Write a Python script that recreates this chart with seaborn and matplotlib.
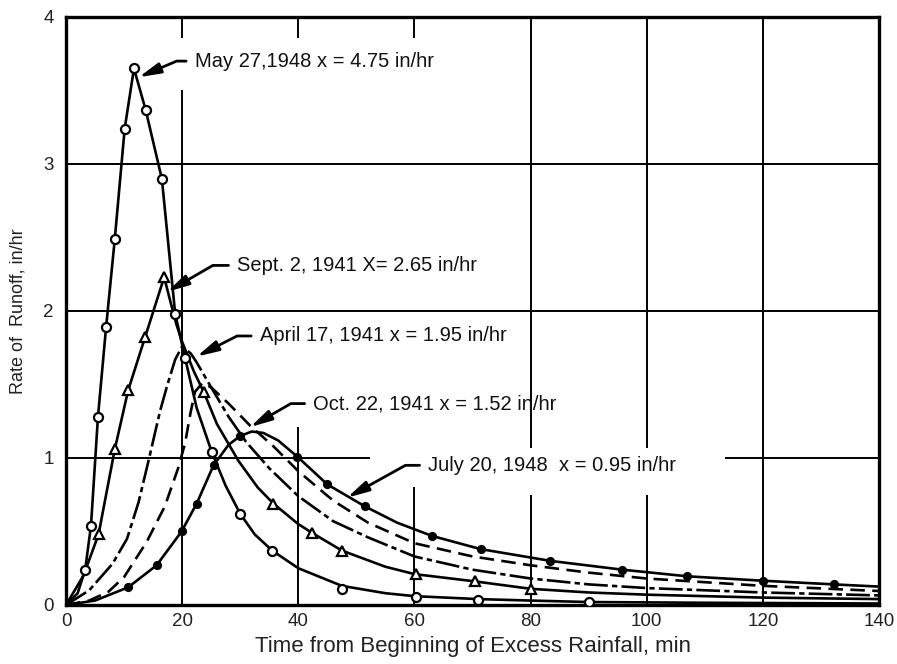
import matplotlib
matplotlib.use("Agg")
import matplotlib.pyplot as plt
import seaborn as sns
import pandas as pd

# ---- data ----
# May 27, 1948 (open circles, solid)
may_x = [0, 2, 3.3, 4.3, 5.5, 6.9, 8.4, 10.1, 11.7, 13.7, 16.5, 18.8, 20.5, 22.5, 25.1, 27.5, 30, 32.5, 35.5, 40, 47.5, 55, 60, 71, 80, 90, 110, 140]
may_y = [0, 0.08, 0.24, 0.54, 1.28, 1.89, 2.49, 3.24, 3.65, 3.37, 2.90, 1.98, 1.68, 1.34, 1.04, 0.81, 0.62, 0.48, 0.37, 0.25, 0.13, 0.08, 0.06, 0.04, 0.03, 0.02, 0.015, 0.01]
may_mx = [3.3, 4.3, 5.5, 6.9, 8.4, 10.1, 11.7, 13.7, 16.5, 18.8, 20.5, 25.1, 30, 35.5, 47.5, 60.2, 71, 90]
may_my = [0.24, 0.54, 1.28, 1.89, 2.49, 3.24, 3.65, 3.37, 2.90, 1.98, 1.68, 1.04, 0.62, 0.37, 0.11, 0.055, 0.035, 0.02]

# Sept. 2, 1941 (open triangles, solid)
sep_x = [0, 3, 5.6, 8.4, 10.7, 13.6, 16.9, 18, 19, 20, 22, 23.7, 26, 29.7, 33, 35.7, 40, 42.4, 47.5, 55, 60, 70.5, 80, 90, 100, 120, 140]
sep_y = [0, 0.2, 0.48, 1.06, 1.46, 1.82, 2.23, 2.06, 1.91, 1.79, 1.59, 1.45, 1.23, 0.98, 0.80, 0.69, 0.55, 0.49, 0.37, 0.26, 0.21, 0.16, 0.11, 0.085, 0.07, 0.05, 0.04]
sep_mx = [5.6, 8.4, 10.7, 13.6, 16.9, 23.7, 35.7, 42.4, 47.5, 60.2, 70.5, 80]
sep_my = [0.48, 1.06, 1.46, 1.82, 2.23, 1.45, 0.69, 0.49, 0.37, 0.21, 0.16, 0.11]

# April 17, 1941 (dash-dot, no markers)
apr_x = [0, 4, 8, 10.5, 12.5, 14.2, 16.2, 17.4, 18.8, 20, 21.5, 22.5, 25, 28, 31, 35, 40, 46, 52, 60, 70, 80, 90, 100, 120, 140]
apr_y = [0, 0.1, 0.28, 0.45, 0.7, 0.98, 1.32, 1.49, 1.67, 1.76, 1.71, 1.65, 1.48, 1.28, 1.11, 0.93, 0.74, 0.57, 0.46, 0.33, 0.24, 0.18, 0.14, 0.115, 0.085, 0.065]

# Oct. 22, 1941 (dashed, no markers)
oct_x = [0, 4, 7.3, 10, 13.9, 17, 19.3, 20.5, 21.4, 22.2, 23.5, 25, 28, 31.7, 35.7, 40, 46, 52, 60, 70, 80, 90, 100, 120, 140]
oct_y = [0, 0.03, 0.09, 0.19, 0.43, 0.67, 0.93, 1.1, 1.3, 1.45, 1.51, 1.48, 1.37, 1.22, 1.08, 0.91, 0.71, 0.56, 0.42, 0.33, 0.27, 0.22, 0.18, 0.13, 0.095]

# July 20, 1948 (filled dots, solid)
jul_x = [0, 5, 10.7, 15.6, 19.9, 22.5, 25.4, 28, 30, 32, 34, 36.5, 39.8, 45, 51.5, 57, 63, 71.4, 83.4, 95.8, 107, 120, 132.2, 140]
jul_y = [0, 0.03, 0.12, 0.27, 0.5, 0.69, 0.95, 1.09, 1.15, 1.18, 1.17, 1.12, 1.01, 0.82, 0.67, 0.56, 0.47, 0.38, 0.30, 0.24, 0.195, 0.165, 0.14, 0.125]
jul_mx = [10.7, 15.6, 19.9, 22.5, 25.4, 30, 39.8, 45, 51.5, 63, 71.4, 83.4, 95.8, 107, 120, 132.2]
jul_my = [0.12, 0.27, 0.5, 0.69, 0.95, 1.15, 1.01, 0.82, 0.67, 0.47, 0.38, 0.30, 0.24, 0.195, 0.165, 0.14]

labels = ["May 27,1948 x = 4.75 in/hr",
          "Sept. 2, 1941 X= 2.65 in/hr",
          "April 17, 1941 x = 1.95 in/hr",
          "Oct. 22, 1941 x = 1.52 in/hr",
          "July 20, 1948  x = 0.95 in/hr"]
x_ticks = [0, 20, 40, 60, 80, 100, 120, 140]
y_ticks = [0, 1, 2, 3, 4]

curves = pd.concat([
    pd.DataFrame({"t": may_x, "q": may_y, "storm": "May"}),
    pd.DataFrame({"t": sep_x, "q": sep_y, "storm": "Sept"}),
    pd.DataFrame({"t": apr_x, "q": apr_y, "storm": "April"}),
    pd.DataFrame({"t": oct_x, "q": oct_y, "storm": "Oct"}),
    pd.DataFrame({"t": jul_x, "q": jul_y, "storm": "July"}),
], ignore_index=True)
points = pd.concat([
    pd.DataFrame({"t": may_mx, "q": may_my, "storm": "May"}),
    pd.DataFrame({"t": sep_mx, "q": sep_my, "storm": "Sept"}),
    pd.DataFrame({"t": jul_mx, "q": jul_my, "storm": "July"}),
], ignore_index=True)

sns.set_theme(style="white")
plt.rcParams["font.family"] = ["Liberation Sans", "DejaVu Sans"]

fig = plt.figure(figsize=(8.97, 6.64), dpi=100)
ax = fig.add_axes([0.0736, 0.0889, 0.9064, 0.8855])

# grid drawn as segments (the reference grid is partly erased behind labels)
grid_kw = dict(color="black", lw=1.4, zorder=0.5)
ax.vlines(20, 0, 3.50, **grid_kw); ax.vlines(20, 3.86, 4, **grid_kw)
ax.vlines(40, 0, 1.21, **grid_kw); ax.vlines(40, 3.86, 4, **grid_kw)
ax.vlines(60, 0, 0.80, **grid_kw); ax.vlines(60, 3.86, 4, **grid_kw)
ax.vlines(80, 0, 0.75, **grid_kw); ax.vlines(80, 1.07, 4, **grid_kw)
ax.vlines(100, 0, 0.75, **grid_kw); ax.vlines(100, 1.07, 4, **grid_kw)
ax.vlines(120, 0, 4, **grid_kw)
ax.hlines(1, 0, 52.4, **grid_kw); ax.hlines(1, 113.5, 140, **grid_kw)
ax.hlines(2, 0, 140, **grid_kw)
ax.hlines(3, 0, 140, **grid_kw)

lstyles = {"May": "-", "Sept": "-", "April": (0, (9, 1.6, 2, 1.6)), "Oct": (0, (5.5, 2.8)), "July": "-"}
for name, ls in lstyles.items():
    sns.lineplot(data=curves[curves.storm == name], x="t", y="q", ax=ax, color="black",
                 lw=1.9, linestyle=ls, sort=False, estimator=None, zorder=3)

mstyles = {"May": ("o", "white", 6.5), "Sept": ("^", "white", 6.5), "July": ("o", "black", 5)}
for name, (mk, fc, ms) in mstyles.items():
    sub = points[points.storm == name]
    ax.plot(sub.t, sub.q, ls="none", marker=mk, mfc=fc, mec="black", mew=1.6, ms=ms, zorder=4)

ax.set_xlim(0, 140)
ax.set_ylim(0, 4)
ax.set_xticks(x_ticks)
ax.set_yticks(y_ticks)
ax.grid(False)
for s in ax.spines.values():
    s.set_color("black")
    s.set_linewidth(2.4)
ax.tick_params(length=0, labelsize=13.5, colors="#222222")
ax.tick_params(axis="x", pad=6)
ax.tick_params(axis="y", pad=9)
ax.set_xlabel("Time from Beginning of Excess Rainfall, min", fontsize=16, color="#222222", labelpad=4)
ax.set_ylabel("Rate of  Runoff, in/hr", fontsize=13, color="#222222", labelpad=12)

ann = [(labels[0], (12.5, 3.59), (22.2, 3.70), 23),
       (labels[1], (17.4, 2.13), (29.5, 2.31), 30),
       (labels[2], (22.5, 1.69), (33.4, 1.83), 27),
       (labels[3], (31.7, 1.21), (42.6, 1.37), 30),
       (labels[4], (48.4, 0.73), (62.4, 0.95), 29)]
for txt, tip, pos, ang in ann:
    ax.annotate(txt, xy=tip, xytext=pos, fontsize=14.5, color="#111111", ha="left", va="center",
                arrowprops=dict(arrowstyle="-|>,head_length=0.9,head_width=0.22", color="black", lw=2,
                                shrinkA=4, shrinkB=0, relpos=(0, 0.5),
                                connectionstyle=f"angle,angleA=0,angleB={ang},rad=0"),
                zorder=5)

fig.savefig("out.png", dpi=100)
